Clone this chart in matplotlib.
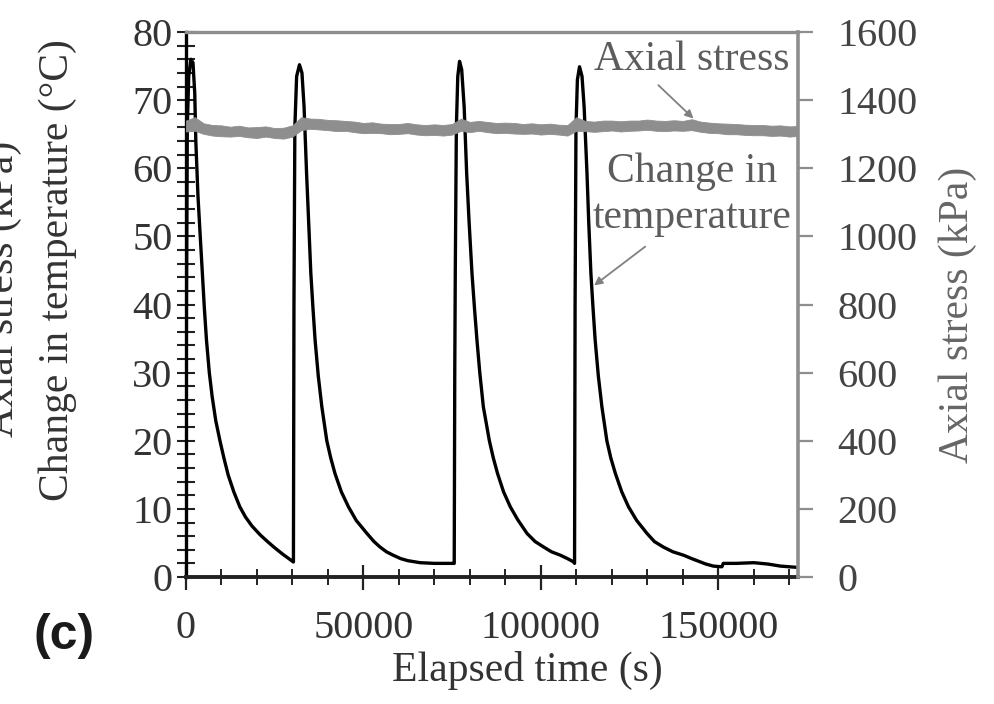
import matplotlib
matplotlib.use("Agg")
import matplotlib.pyplot as plt
from matplotlib.ticker import MultipleLocator

plt.rcParams['font.family'] = ['Liberation Serif', 'DejaVu Serif']

# Change in temperature (deg C) versus elapsed time (s)
time_s = [
    0, 150, 400, 800, 1400, 2000, 2500, 2800, 3400, 4100, 4600, 5200, 5800,
    6600, 7400, 8400, 9600, 10700, 11900, 13500, 15200, 16800, 18600, 20900,
    23000, 25000, 27400, 29000, 30300,
    30450, 30700, 31200, 32000, 32700, 33300, 34000, 34600, 35200, 35800,
    36400, 37300, 38300, 39700, 40800, 42000, 43800, 45800, 48000, 51000,
    53000, 54700, 56500, 58400, 60500, 62500, 66000, 70000, 75300,
    75600, 75750, 75900, 76200, 76600, 77100, 77700, 78400, 79100, 79800,
    80600, 81300, 82000, 82800, 83800, 85500, 86600, 87800, 89500, 91400,
    93500, 96100, 98400, 100800, 103000, 105500, 107500, 109300,
    109500, 109650, 109900, 110300, 110900, 111600, 112200, 113000, 113500,
    114100, 114700, 115300, 116200, 117200, 118600, 119700, 121000, 122800,
    124700, 127000, 129900, 132000, 134500, 137200, 140200, 142500, 144500,
    146500, 148600, 151000, 151400, 155000, 160000, 164000, 167500, 172500,
]
temp_change = [
    2.0, 40.0, 66.0, 73.5, 76.0, 75.5, 71.0, 64.0, 56.0, 49.5, 45.0, 39.5, 34.8,
    30.0, 26.5, 23.0, 20.0, 17.5, 15.0, 12.5, 10.3, 8.8, 7.5, 6.2,
    5.2, 4.3, 3.3, 2.7, 2.2,
    40.0, 66.0, 73.5, 75.2, 74.0, 69.0, 59.3, 52.0, 44.6, 39.5,
    34.8, 29.5, 25.0, 20.0, 17.5, 15.2, 12.5, 10.3, 8.3, 6.4,
    5.2, 4.4, 3.7, 3.2, 2.7, 2.4, 2.1, 2.0, 2.0,
    2.0, 30.0, 45.0, 66.0, 73.5, 75.7, 74.5, 69.0, 59.3, 52.0,
    44.6, 39.5, 34.8, 30.0, 25.0, 20.0, 17.5, 15.2, 12.5, 10.3,
    8.4, 6.4, 5.2, 4.4, 3.7, 3.2, 2.7, 2.2,
    2.0, 40.0, 66.0, 73.0, 74.9, 73.5, 69.0, 59.3, 52.0,
    44.6, 39.5, 34.8, 29.5, 25.0, 20.0, 17.5, 15.2, 12.5,
    10.3, 8.3, 6.4, 5.2, 4.4, 3.7, 3.2, 2.7, 2.3,
    1.9, 1.6, 1.5, 2.0, 2.0, 2.1, 1.9, 1.6, 1.4,
]

# Axial stress (kPa): upper and lower edges of the recorded band
stress_time_s = [
    0, 2500, 5000, 7500, 10000, 12500, 15000, 17500, 20000, 22500,
    25000, 27500, 30000, 32500, 35000, 37500, 40000, 42500, 45000, 47500,
    50000, 52500, 55000, 57500, 60000, 62500, 65000, 67500, 70000, 72500,
    75000, 77500, 80000, 82500, 85000, 87500, 90000, 92500, 95000, 97500,
    100000, 102500, 105000, 107500, 110000, 112500, 115000, 117500, 120000,
    122500, 125000, 127500, 130000, 132500, 135000, 137500, 140000, 142500,
    145000, 147500, 150000, 152500, 155000, 157500, 160000, 162500, 165000,
    167500, 170000, 172500,
]
stress_high = [
    1340, 1350, 1332, 1327, 1326, 1322, 1325, 1320, 1321, 1323,
    1318, 1319, 1326, 1350, 1346, 1345, 1342, 1341, 1339, 1337,
    1333, 1335, 1331, 1330, 1330, 1333, 1329, 1327, 1329, 1327,
    1330, 1346, 1336, 1339, 1336, 1333, 1334, 1333, 1330, 1332,
    1329, 1331, 1328, 1327, 1350, 1339, 1337, 1340, 1340,
    1338, 1340, 1340, 1343, 1340, 1339, 1341, 1339, 1344,
    1337, 1334, 1332, 1331, 1330, 1328, 1327, 1327, 1325,
    1326, 1323, 1324,
]
stress_low = [
    1308, 1310, 1301, 1296, 1294, 1293, 1295, 1291, 1289, 1293,
    1289, 1287, 1293, 1312, 1316, 1314, 1312, 1309, 1310, 1306,
    1303, 1304, 1303, 1300, 1301, 1303, 1299, 1297, 1298, 1296,
    1299, 1310, 1306, 1310, 1306, 1303, 1304, 1302, 1301, 1302,
    1299, 1301, 1299, 1296, 1310, 1309, 1307, 1309, 1311,
    1308, 1310, 1311, 1313, 1310, 1309, 1311, 1310, 1312,
    1307, 1304, 1303, 1300, 1300, 1298, 1297, 1297, 1295,
    1296, 1293, 1295,
]

x_ticks = [0, 50000, 100000, 150000]
temp_ticks = [0, 10, 20, 30, 40, 50, 60, 70, 80]
stress_ticks = [0, 200, 400, 600, 800, 1000, 1200, 1400, 1600]

FS = 29     # tick labels
LFS = 30    # axis titles and callouts
GRAY = '#8e8e8e'
DARK = '#333333'

fig = plt.figure(figsize=(9.94, 7.04), dpi=100)
ax = fig.add_axes([0.187, 0.1804, 0.616, 0.7741])

ax.plot(time_s, temp_change, color='black', lw=2.4, solid_joinstyle='round')
ax.set_xlim(0, 172500)
ax.set_ylim(0, 80)
ax.set_xticks(x_ticks)
ax.set_xticklabels([str(v) for v in x_ticks])
ax.xaxis.set_minor_locator(MultipleLocator(10000))
ax.set_yticks(temp_ticks)
ax.yaxis.set_minor_locator(MultipleLocator(2))

ax.tick_params(axis='x', which='major', direction='inout', length=18,
               width=1.6, color='#222222', pad=15, labelsize=FS,
               labelcolor=DARK, top=False)
ax.tick_params(axis='x', which='minor', direction='inout', length=11,
               width=1.4, color='#222222', top=False)
ax.tick_params(axis='y', which='both', direction='inout', length=13,
               width=1.5, color='#222222', pad=3, labelsize=FS,
               labelcolor=DARK, right=False)

ax.set_xlabel('Elapsed time (s)', fontsize=LFS, color=DARK)
ax.xaxis.label.set_va('center')
ax.xaxis.set_label_coords(0.557, -0.171)
ax.set_ylabel('Change in temperature (°C)', fontsize=LFS, color=DARK)
ax.yaxis.label.set_va('center')
ax.yaxis.set_label_coords(-0.209, 0.563)

ax.spines['left'].set_color('black')
ax.spines['left'].set_linewidth(2.4)
ax.spines['bottom'].set_color('#222222')
ax.spines['bottom'].set_linewidth(2.8)
ax.spines['top'].set_color(GRAY)
ax.spines['top'].set_linewidth(2.4)
ax.spines['right'].set_visible(False)

ax2 = ax.twinx()
ax2.fill_between(stress_time_s, stress_low, stress_high, color=GRAY, lw=0.6,
                 edgecolor=GRAY)
ax2.set_ylim(0, 1600)
ax2.set_yticks(stress_ticks)
ax2.tick_params(axis='y', direction='out', length=11, width=1.6, color=GRAY,
                pad=17, labelsize=FS, labelcolor='#444444')
ax2.set_ylabel('Axial stress (kPa)', fontsize=LFS, color='#666666',
               rotation=90)
ax2.yaxis.label.set_va('center')
ax2.yaxis.set_label_coords(1.261, 0.481)
for side in ('left', 'top', 'bottom'):
    ax2.spines[side].set_visible(False)
ax2.spines['right'].set_color(GRAY)
ax2.spines['right'].set_linewidth(2.6)

# Callouts
ANN = '#5c5c5c'
ax2.text(142500, 1518, 'Axial stress', fontsize=LFS, color=ANN,
         ha='center', va='center')
ax2.annotate('', xy=(143000, 1346), xytext=(133100, 1444),
             arrowprops=dict(arrowstyle='-|>', color='#808080', lw=1.3,
                             mutation_scale=12, shrinkA=0, shrinkB=0))
ax.text(142500, 59.5, 'Change in', fontsize=LFS, color=ANN,
        ha='center', va='center')
ax.text(142500, 52.7, 'temperature', fontsize=LFS, color=ANN,
        ha='center', va='center')
ax.annotate('', xy=(115000, 42.8), xytext=(129400, 48.5),
            arrowprops=dict(arrowstyle='-|>', color='#808080', lw=1.3,
                            mutation_scale=12, shrinkA=0, shrinkB=0))

# Neighbouring panel's axis title, cut by the figure edge
fig.text(22 / 994, 1 - 289 / 704, 'Axial stress (kPa)', rotation=90,
         fontsize=LFS, color=DARK, ha='right', va='center')

fig.text(64 / 994, 1 - 636 / 704, '(c)', fontsize=36, fontweight='bold',
         family=['Liberation Sans', 'DejaVu Sans'], ha='center', va='center',
         color='#1a1a1a')

fig.savefig('out.png', dpi=100)
